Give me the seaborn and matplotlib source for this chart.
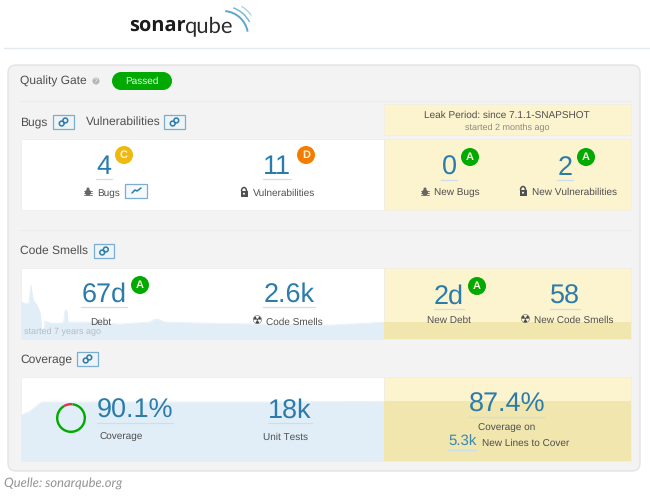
import numpy as np
import pandas as pd
from matplotlib import pyplot as plt
from matplotlib.patches import Arc, Circle, FancyBboxPatch, Rectangle
import seaborn as sns

# history of the debt widget: share of widget width (%) and debt in days
debt_pos = [0, 1, 1.3, 1.6, 2, 2.6, 3.1, 3.3, 3.4, 3.8, 3.9, 4.8, 6.7, 7, 7.2, 7.5, 7.7, 11.3, 16.2, 21.1, 22, 22.8, 23.6,
            29.3, 39.2, 50.7, 57.2, 59.5, 70, 100]
debt_days = [146, 138, 146, 213, 154, 134, 106, 67, 35, 47, 71, 63, 63, 67, 114, 114, 67, 67, 59, 67, 79, 75, 67,
             63, 59, 55, 63, 67, 67, 67]

# history of the coverage widget
cov_pos = [0, 1.5, 2.5, 3.4, 20, 40, 59.5, 70, 100]
cov_pct = [70, 76, 84, 90, 90, 90, 91, 91, 91]

# donut
coverage_parts = [90.1, 9.9]

# measures
main_values = ['4', '11', '0', '2', '67d', '2.6k', '2d', '58', '90.1%', '18k', '87.4%']
value_x = [104, 277, 449, 565, 104, 289, 449, 565, 135, 290, 507]
value_y = [164, 164, 165, 165, 292, 292, 294, 294, 408, 408, 402]

ratings = ['C', 'D', 'A', 'A', 'A', 'A']
rating_x = [124, 306, 470, 586, 140, 477]
rating_y = [155, 155, 157, 157, 285, 286]
rating_col = ['#f0b90f', '#f47c00', '#00aa00', '#00aa00', '#00aa00', '#00aa00']

BLUE = '#2b7cab'
LABEL = '#4f4f4f'
YELLOW = '#fcf3cf'

sns.set_theme(style='white')
plt.rcParams['font.family'] = ['Liberation Sans', 'DejaVu Sans']
plt.rcParams['text.hinting'] = 'no_hinting'
plt.rcParams['text.hinting_factor'] = 1
W, H = 650, 499
fig = plt.figure(figsize=(W / 100, H / 100), dpi=100, facecolor='white')


def px_axes(x0, y0, x1, y1, z):
    a = fig.add_axes([x0 / W, 1 - y1 / H, (x1 - x0) / W, (y1 - y0) / H], zorder=z)
    a.axis('off')
    a.patch.set_alpha(0)
    return a


bg = px_axes(0, 0, W, H, 0)
bg.set_xlim(0, W)
bg.set_ylim(H, 0)
top = px_axes(0, 0, W, H, 3)
top.set_xlim(0, W)
top.set_ylim(H, 0)

# page furniture
bg.plot([4, 650], [48, 48], color='#e3e9ec', lw=1)
bg.add_patch(FancyBboxPatch((12, 69), 624, 398, boxstyle='round,pad=4,rounding_size=8',
                            fc='#f3f3f3', ec='#e2e2e2', lw=1))
bg.plot([20, 631], [101, 101], color='#ebebeb', lw=0.8)
bg.plot([20, 631], [230, 230], color='#ebebeb', lw=0.8)

# white and yellow panels
for y0, y1 in [(139, 210), (268, 339), (377, 461)]:
    bg.add_patch(Rectangle((21, y0), 363, y1 - y0, fc='white', ec='#ececec', lw=0.5))
    bg.add_patch(Rectangle((384, y0), 247, y1 - y0, fc=YELLOW, ec='#f0eee0', lw=0.5))
bg.add_patch(Rectangle((384, 104), 247, 31, fc=YELLOW, ec='#f0eee0', lw=0.5))


def area(frame, xcol, ycol, ymax, y0, y1):
    # left part blue, right part (leak period) darker yellow
    a = px_axes(21, y0, 631, y1, 1)
    x = frame[xcol].values
    y = frame[ycol].values
    sns.lineplot(data=frame[frame[xcol] <= 59.5], x=xcol, y=ycol, ax=a, color='#e1eef7', lw=0.5, legend=False)
    a.fill_between(x, y, 0, where=x <= 59.5, color='#e1eef7', lw=0)
    a.fill_between(x, y, 0, where=x >= 59.5, color='#f0e6ae', lw=0)
    a.set_xlim(0, 100)
    a.set_ylim(0, ymax)
    a.axis('off')
    return a


area(pd.DataFrame({'pos': debt_pos, 'days': debt_days}), 'pos', 'days', 280, 268, 339)
area(pd.DataFrame({'pos': cov_pos, 'pct': cov_pct}), 'pos', 'pct', 128, 377, 461)

# donut, red slice sits at the top
don = px_axes(53, 400, 89, 436, 2)
don.pie(coverage_parts, colors=['#00aa00', '#e0304a'], startangle=120, counterclock=True,
        radius=1, wedgeprops=dict(width=0.16, lw=0))
don.set_xlim(-1.2, 1.2)
don.set_ylim(-1.2, 1.2)
don.set_aspect('equal')


def lab(x, y, s, size=7.0, color=LABEL, ha='left', **kw):
    top.text(x, y, s, fontsize=size, color=color, ha=ha, va='center', **kw)


def link_box(x0, x1, y):
    top.add_patch(Rectangle((x0, y - 7), x1 - x0, 14, fc='#eef3f6', ec='#7aaed0', lw=0.9))
    cx = (x0 + x1) / 2
    top.add_patch(Circle((cx + 1.8, y - 1.5), 2.4, fc='none', ec=BLUE, lw=1.1))
    top.add_patch(Circle((cx - 1.8, y + 1.5), 2.4, fc='none', ec=BLUE, lw=1.1))


def bug(x, y):
    top.add_patch(Circle((x, y + 0.5), 3, fc='#666666', ec='none'))
    top.add_patch(Circle((x, y - 3), 1.5, fc='#666666', ec='none'))
    for dy in (-1.5, 0.8, 3):
        top.plot([x - 4, x + 4], [y + dy, y + dy], color='#666666', lw=0.6)


def lock(x, y):
    top.add_patch(Rectangle((x - 3.5, y - 1), 7, 5.5, fc='#505050', ec='none'))
    top.add_patch(Arc((x, y - 1), 5, 7, theta1=180, theta2=360, color='#505050', lw=1.1))
    top.add_patch(Circle((x, y + 1.7), 1, fc='white', ec='none'))


def smell(x, y):
    top.text(x, y, '\u2622', fontsize=8.5, color='#444444', ha='center', va='center', family='DejaVu Sans')


# logo
top.text(129, 26, 'sonar', fontsize=14.5, fontweight='bold', color='#1c1c1c', va='center', family='Open Sans')
top.text(184.5, 26, 'qube', fontsize=16, color='#2a2a2a', va='center', family='Lato')
for r, t1, t2, c, w in [(25, -85, -10, '#5aa6cc', 1.4), (30, -70, -28, '#7ab8d6', 1.1), (35, -58, -36, '#a5cfe3', 0.9)]:
    top.add_patch(Arc((223, 36), 2 * r, 2 * r, theta1=t1, theta2=t2, color=c, lw=w))

# quality gate row
lab(20, 81, 'Quality Gate', size=8.4)
top.add_patch(Circle((96, 81), 3.5, fc='#b5b5b5', ec='none'))
top.text(96, 81, '?', fontsize=5, color='white', ha='center', va='center')
top.add_patch(Rectangle((121, 72), 42, 18, fc='#00aa00', ec='none'))
top.add_patch(Circle((121, 81), 9, fc='#00aa00', ec='none'))
top.add_patch(Circle((163, 81), 9, fc='#00aa00', ec='none'))
top.text(141.5, 81, 'Passed', fontsize=7, color='#e9f7e9', ha='center', va='center')

# section titles
lab(20, 122, 'Bugs', size=8.4)
link_box(53, 74, 122)
lab(86, 122, 'Vulnerabilities', size=8.4)
link_box(164, 185, 122)
lab(20, 251, 'Code Smells', size=8.4)
link_box(94, 114, 251)
lab(20, 359, 'Coverage', size=8.4)
link_box(77, 98, 359)

# leak period head
lab(507, 115, 'Leak Period: since 7.1.1-SNAPSHOT', size=7.3, ha='center')
lab(507, 128, 'started 2 months ago', size=6.2, color='#8a8a80', ha='center')

# big numbers
for s, x, y in zip(main_values, value_x, value_y):
    t = top.text(x, y, s, fontsize=19.5, color=BLUE, ha='center', va='center_baseline')
    bb = t.get_window_extent(fig.canvas.get_renderer())
    half = bb.width / 2
    top.plot([x - half, x + half], [y + 15, y + 15], color='#c9dfeb', lw=0.9)

for s, x, y, c in zip(ratings, rating_x, rating_y, rating_col):
    top.add_patch(Circle((x, y), 9, fc=c, ec='none'))
    top.text(x, y, s, fontsize=7.6, color='#fdf3e0', ha='center', va='center', fontweight='bold')

# labels under the numbers
bug(88, 192)
lab(97, 193, 'Bugs')
top.add_patch(Rectangle((125, 184), 22, 14, fc='#f6f9fb', ec='#7aaed0', lw=0.9))
top.plot([132, 135, 137, 141], [193, 190, 191, 188], color=BLUE, lw=1.1)
lock(244, 192)
lab(253, 193, 'Vulnerabilities')
bug(425, 192)
lab(434, 192, 'New Bugs')
lock(523, 191)
lab(532, 192, 'New Vulnerabilities')

lab(101, 322, 'Debt', ha='center')
smell(257, 321)
lab(266, 322, 'Code Smells')
lab(24, 332, 'started 7 years ago', size=6.2, color='#b4bcc2')
lab(449, 320, 'New Debt', ha='center')
smell(525, 320)
lab(534, 320, 'New Code Smells')

lab(121, 437, 'Coverage', ha='center')
lab(286, 437, 'Unit Tests', ha='center')
lab(507, 428, 'Coverage on', ha='center')
lab(448, 442, '5.3k', size=10.5, color='#3d86b2')
top.plot([448, 476], [450, 450], color='#c9dfeb', lw=0.9)
lab(482, 443, 'New Lines to Cover')

# source line
top.text(4, 483, 'Quelle: sonarqube.org', fontsize=9.1, style='italic', color='#949494', va='center', family='Lato')

plt.savefig('out.png', dpi=100)

if __name__ == '__main__':
    pass
